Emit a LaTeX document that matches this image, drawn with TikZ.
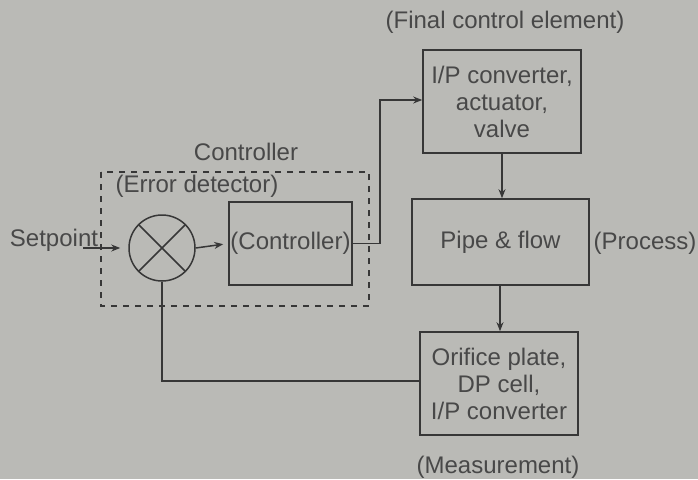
\documentclass[tikz,border=0pt]{standalone}
\usepackage{fontspec}
\setmainfont{Liberation Sans}
\usetikzlibrary{arrows.meta}
\definecolor{bg}{RGB}{186,186,182}
\definecolor{ink}{RGB}{55,55,55}
\definecolor{txt}{RGB}{72,72,72}
\begin{document}
\begin{tikzpicture}[x=1pt,y=-1pt,
  every node/.style={text=txt,font=\fontsize{24}{27}\selectfont},
  blk/.style={draw=ink,line width=1.6pt,align=center,inner sep=0pt},
  conn/.style={draw=ink,line width=1.5pt},
  arr/.style={conn,-{Stealth[length=9pt,width=7pt]}},
  lbl/.style={inner sep=0pt}]
\fill[bg] (0,0) rectangle (698,479);
\useasboundingbox (0,0) rectangle (698,479);
% dashed controller boundary
\draw[ink,line width=1.5pt,dash pattern=on 6pt off 6pt] (101,172) rectangle (369,306);
% blocks
\node[blk,minimum width=158pt,minimum height=103pt] (fce) at (502,101.5) {I/P converter,\\actuator,\\valve};
\node[blk,minimum width=177pt,minimum height=86pt] (proc) at (500.5,242) {Pipe \& flow};
\node[blk,minimum width=158pt,minimum height=103pt] (meas) at (499,383.5) {Orifice plate,\\DP cell,\\I/P converter};
\node[blk,minimum width=123pt,minimum height=83pt] (ctrl) at (290.5,243.5) {(Controller)};
\node[draw=ink,line width=1.5pt,circle,minimum size=66pt,inner sep=0pt] (sum) at (162,248) {};
\draw[ink,line width=1.5pt] (sum.45) -- (sum.225) (sum.135) -- (sum.315);
% labels
\node[lbl] (lfce) at (505,22) {(Final control element)};
\node[lbl] (lproc) at (645,243) {(Process)};
\node[lbl] (lmeas) at (498,467) {(Measurement)};
\node[lbl] (lctrl) at (246,152) {Controller};
\node[lbl] (lerr) at (197,186) {(Error detector)};
\node[lbl] (sp) at (54,240) {Setpoint};
% connectors
\coordinate (spin) at (83,248);
\draw[arr,shorten >=8pt] (spin) -- (sum.west);
\draw[arr,shorten >=5pt] (sum.east) -- (ctrl.west);
\draw[arr] (ctrl.east) -| (380,100) -- (fce.west |- 0,100);
\draw[arr] (fce.south -| 502,0) -- (proc.north -| 502,0);
\draw[arr] (proc.south -| 500,0) -- (meas.north -| 500,0);
\draw[conn] (meas.west |- 0,381) -| (sum.south);
\end{tikzpicture}
\end{document}
